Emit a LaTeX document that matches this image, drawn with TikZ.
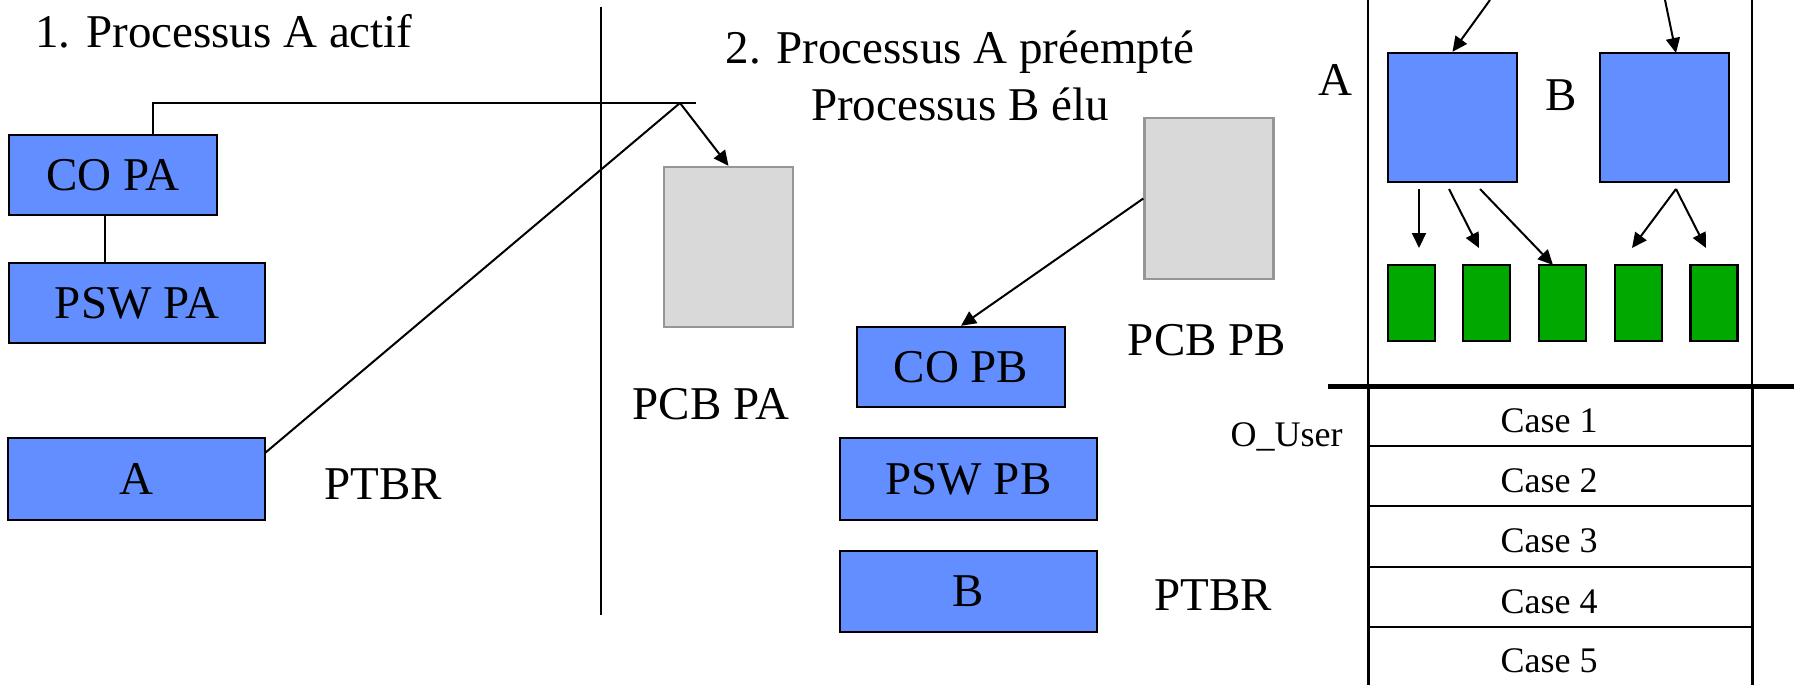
\documentclass[tikz,border=0pt]{standalone}
\usepackage{fontspec}
\setmainfont{Liberation Serif}
\usetikzlibrary{arrows.meta}
\definecolor{procblue}{RGB}{99,142,255}
\definecolor{pagegreen}{RGB}{0,168,0}
\definecolor{pcbgray}{RGB}{217,217,217}
\definecolor{pcbedge}{RGB}{150,150,150}
\begin{document}
\begin{tikzpicture}[x=0.5pt,y=-0.5pt,
  regbox/.style={draw=black,line width=1.2pt,fill=procblue,inner sep=0pt,font=\fontsize{23.5}{28}\selectfont},
  pcbbox/.style={draw=pcbedge,line width=1.2pt,fill=pcbgray,inner sep=0pt,minimum width=64.5pt,minimum height=80pt},
  membox/.style={draw=black,line width=1.2pt,fill=procblue,inner sep=0pt,minimum width=64.5pt,minimum height=64.5pt},
  pagebox/.style={draw=black,line width=1.2pt,fill=pagegreen,inner sep=0pt,minimum width=23.5pt,minimum height=38pt},
  txt/.style={inner sep=0pt,font=\fontsize{23.5}{28}\selectfont},
  smalltxt/.style={inner sep=0pt,font=\fontsize{18}{22}\selectfont},
  link/.style={line width=1pt},
  arr/.style={line width=1pt,-{Triangle[length=7.5pt,width=7pt]}},
]
\useasboundingbox (0,0) rectangle (1794,685);

% ---------- step 1: process A running ----------
\node[txt,anchor=base west] (t1) at (35,47) {1. Processus A actif};
\node[regbox,minimum width=104pt,minimum height=40pt] (copa) at (113,175) {CO PA};
\node[regbox,minimum width=128pt,minimum height=40pt] (pswpa) at (137,303) {PSW PA};
\node[regbox,minimum width=128.5pt,minimum height=41pt] (ptbra) at (136.5,479) {A};
\node[txt,anchor=base west] (ptbral) at (324,499) {PTBR};

% separator
\coordinate (sepT) at (601,7);
\coordinate (sepB) at (601,615);
\draw[link] (sepT) -- (sepB);

% ---------- step 2: A preempted, B elected ----------
\node[txt,anchor=base] (t2a) at (960,63) {2. Processus A préempté};
\node[txt,anchor=base] (t2b) at (960,120) {Processus B élu};

\node[pcbbox] (pcba) at (728.5,247) {};
\node[txt,anchor=base] (pcbal) at (711,419) {PCB PA};
\node[pcbbox,minimum height=80.5pt] (pcbb) at (1209,198.5) {};
\node[txt,anchor=base] (pcbbl) at (1207,355) {PCB PB};

\node[regbox,minimum width=104pt,minimum height=40pt] (copb) at (961,367) {CO PB};
\node[regbox,minimum width=128.5pt,minimum height=41pt] (pswpb) at (968.5,479) {PSW PB};
\node[regbox,minimum width=128.5pt,minimum height=40.5pt] (ptbrb) at (968.5,591.5) {B};
\node[txt,anchor=base west] (ptbrbl) at (1154,610) {PTBR};

% saving A's context into its PCB
\coordinate (apex) at (680,103);
\coordinate (hend) at (696,103);
\coordinate (copaTop) at (153,135);
\coordinate (ptbraR) at (265,453);
\draw[link] (copaTop) |- (hend);
\draw[link] (copa.south -| 105,0) -- (pswpa.north -| 105,0);
\draw[link] (ptbraR) -- (apex);
\draw[arr] (apex) -- (pcba.north);

% restoring B's context from its PCB
\draw[arr] (pcbb.west) -- (copb.north);

% ---------- memory: page tables and pages ----------
\coordinate (memLT) at (1368,0);
\coordinate (memLM) at (1368,386);
\coordinate (memLB) at (1368,685);
\coordinate (memRT) at (1752,0);
\coordinate (memRM) at (1752,386);
\coordinate (memRB) at (1752,685);
\draw[line width=1pt] (memLT) -- (memLM);
\draw[line width=1pt] (memRT) -- (memRM);
\draw[line width=1.5pt] (memLM) -- (memLB);
\draw[line width=1.5pt] (memRM) -- (memRB);

\node[txt,anchor=base west] (al) at (1318,95) {A};
\node[txt,anchor=base west] (bl) at (1545,110) {B};
\node[membox] (tA) at (1452.5,117.5) {};
\node[membox] (tB) at (1664.5,117.5) {};

\coordinate (inA) at (1490,0);
\coordinate (inB) at (1665,0);
\coordinate (tBtop) at (1676,53);
\draw[arr] (inA) -- (tA.north);
\draw[arr] (inB) -- (tBtop);

\node[pagebox] (g1) at (1411.5,303) {};
\node[pagebox] (g2) at (1486.5,303) {};
\node[pagebox] (g3) at (1562.5,303) {};
\node[pagebox] (g4) at (1638.5,303) {};
\node[pagebox] (g5) at (1714,303) {};

\coordinate (a1s) at (1419,189);
\coordinate (a1e) at (1419,248);
\coordinate (a2s) at (1449,189);
\coordinate (a2e) at (1479,248);
\coordinate (a3s) at (1480,189);
\coordinate (b0s) at (1676,189);
\coordinate (b1e) at (1632,248);
\coordinate (b2e) at (1706,248);
\coordinate (g3top) at (1553,265);
\draw[arr] (a1s) -- (a1e);
\draw[arr] (a2s) -- (a2e);
\draw[arr] (a3s) -- (g3top);
\draw[arr] (b0s) -- (b1e);
\draw[arr] (b0s) -- (b2e);

% user space boundary
\coordinate (ubL) at (1328,386);
\coordinate (ubR) at (1794,386);
\draw[line width=2.5pt] (ubL) -- (ubR);

% user space cells
\foreach \y in {446,506,567,627}
  \draw[line width=1.2pt] (1368,\y) -- (1752,\y);
\node[smalltxt,anchor=base] (c1) at (1549,432) {Case 1};
\node[smalltxt,anchor=base] (c2) at (1549,492) {Case 2};
\node[smalltxt,anchor=base] (c3) at (1549,552) {Case 3};
\node[smalltxt,anchor=base] (c4) at (1549,613) {Case 4};
\node[smalltxt,anchor=base] (c5) at (1549,672) {Case 5};
\node[smalltxt,anchor=base east] (ouser) at (1343,446) {O\_User};
\end{tikzpicture}
\end{document}
